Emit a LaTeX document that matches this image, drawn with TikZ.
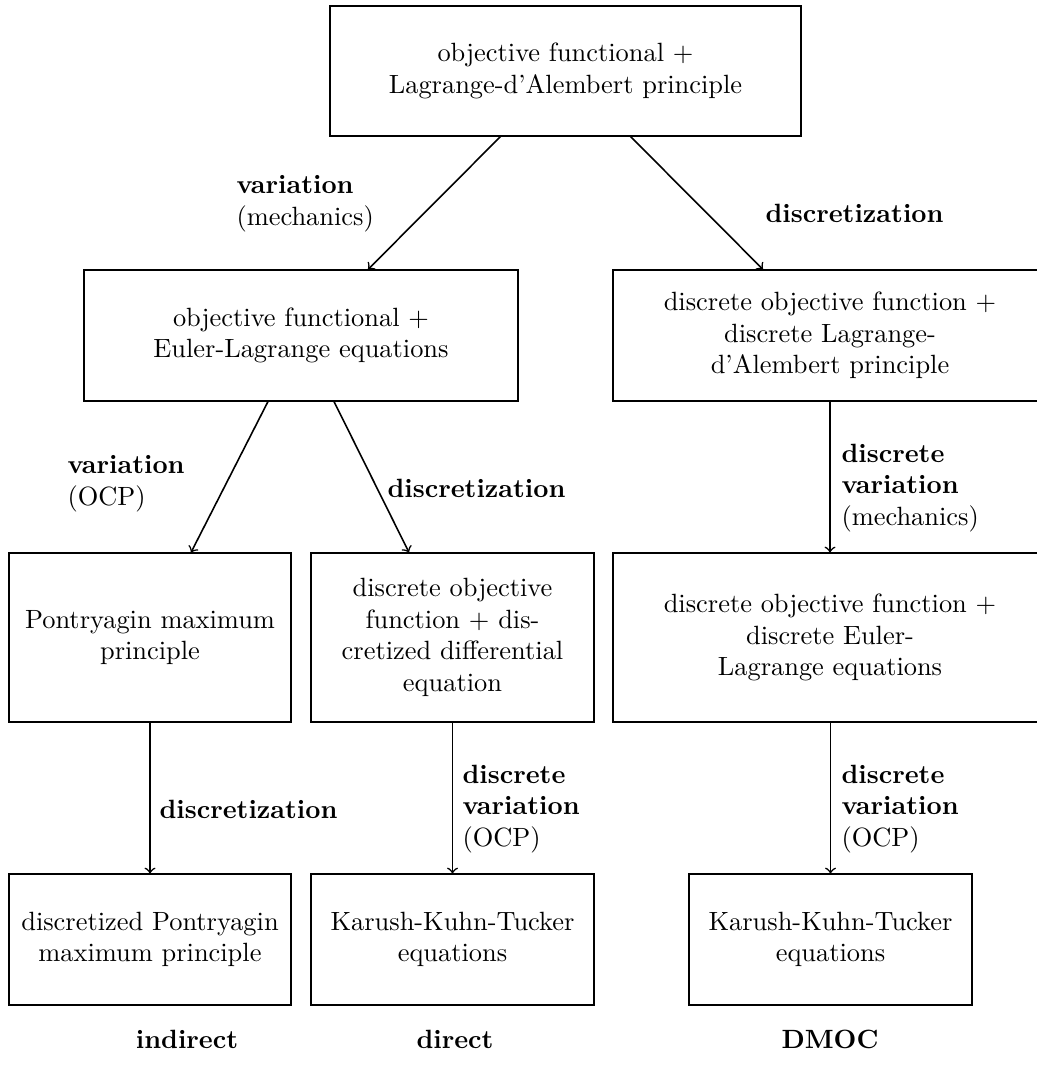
\documentclass[tikz,border=0pt]{standalone}
\usetikzlibrary{calc}
\begin{document}
\begin{tikzpicture}[x=0.3788pt, y=-0.3788pt,
  box/.style={draw, line width=0.4pt, inner sep=0pt, align=center},
  wd/.style={minimum width=#1*0.3788pt},
  ht/.style={minimum height=#1*0.3788pt},
  lbl/.style={inner sep=0pt, align=left, anchor=west},
  foot/.style={inner sep=0pt, font=\bfseries},
  arr/.style={->, line width=0.6pt}]
\useasboundingbox (0,0) rectangle (1036,1069);

\node[box, wd=471, ht=130] (B1) at (565.5,71) {objective functional +\\Lagrange-d'Alembert principle};
\node[box, wd=434, ht=131] (B2) at (301,335.5) {objective functional +\\Euler-Lagrange equations};
\node[box, wd=434, ht=131] (B3) at (830,335.5) {discrete objective function +\\discrete Lagrange-\\d'Alembert principle};
\node[box, wd=282, ht=169] (B4) at (150,637.5) {Pontryagin maximum\\principle};
\node[box, wd=283, ht=169] (B5) at (452.5,637.5) {discrete objective\\function + dis-\\cretized differential\\equation};
\node[box, wd=434, ht=169] (B6) at (830,637.5) {discrete objective function +\\discrete Euler-\\Lagrange equations};
\node[box, wd=282, ht=131] (B7) at (150,939.5) {discretized Pontryagin\\maximum principle};
\node[box, wd=283, ht=131] (B8) at (452.5,939.5) {Karush-Kuhn-Tucker\\equations};
\node[box, wd=283, ht=131] (B9) at (830.5,939.5) {Karush-Kuhn-Tucker\\equations};

\draw[arr] ($(B1.south)+(-65,0)$) -- ($(B2.north)+(67,0)$);
\draw[arr] ($(B1.south)+(65,0)$) -- ($(B3.north)+(-67,0)$);
\draw[arr] ($(B2.south)+(-33,0)$) -- ($(B4.north)+(41,0)$);
\draw[arr] ($(B2.south)+(33,0)$) -- ($(B5.north)+(-43.5,0)$);
\draw[arr] (B3.south) -- (B6.north);
\draw[arr] (B4.south) -- (B7.north);
\draw[arr] (B5.south) -- (B8.north);
\draw[arr] ($(B6.south)+(0.5,0)$) -- (B9.north);

\node[lbl] (L1) at (236,204) {\textbf{variation}\\(mechanics)};
\node[lbl] (L2) at (765,213) {\textbf{discretization}};
\node[lbl] (L3) at (67,484) {\textbf{variation}\\(OCP)};
\node[lbl] (L4) at (387,488) {\textbf{discretization}};
\node[lbl] (L5) at (841,488) {\textbf{discrete}\\\textbf{variation}\\(mechanics)};
\node[lbl] (L6) at (159,809) {\textbf{discretization}};
\node[lbl] (L7) at (462,809) {\textbf{discrete}\\\textbf{variation}\\(OCP)};
\node[lbl] (L8) at (841,809) {\textbf{discrete}\\\textbf{variation}\\(OCP)};

\node[foot] (F1) at (187,1039) {indirect};
\node[foot] (F2) at (455,1039) {direct};
\node[foot] (F3) at (830,1039) {DMOC};
\end{tikzpicture}
\end{document}
